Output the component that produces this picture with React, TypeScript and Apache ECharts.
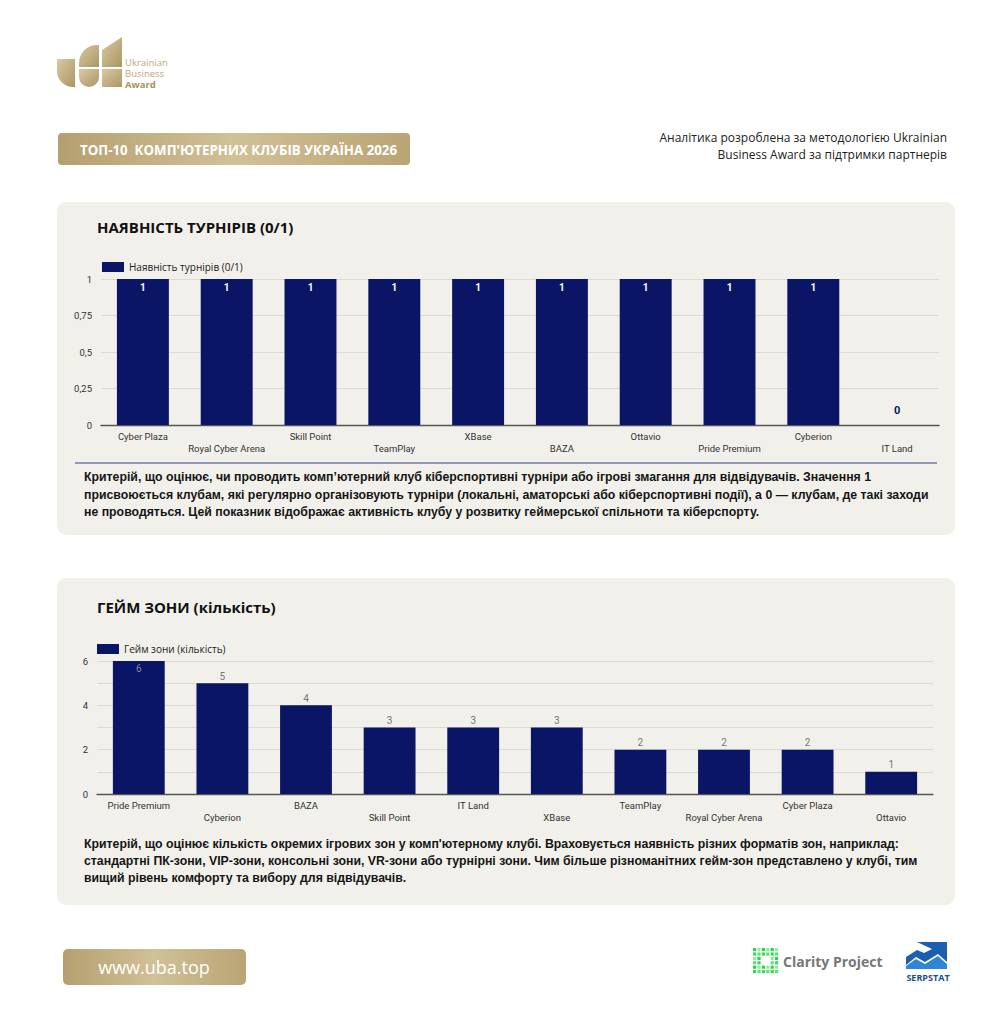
import React, { useEffect, useRef } from "react";
import * as echarts from "echarts";

const clubs1 = ["Cyber Plaza", "Royal Cyber Arena", "Skill Point", "TeamPlay", "XBase", "BAZA", "Ottavio", "Pride Premium", "Cyberion", "IT Land"];
const tournaments = [1, 1, 1, 1, 1, 1, 1, 1, 1, 0];
const clubs2 = ["Pride Premium", "Cyberion", "BAZA", "Skill Point", "IT Land", "XBase", "TeamPlay", "Royal Cyber Arena", "Cyber Plaza", "Ottavio"];
const gameZones = [6, 5, 4, 3, 3, 3, 2, 2, 2, 1];
const series1Name = "Наявність турнірів (0/1)";
const series2Name = "Гейм зони (кількість)";

const desc1 = [
  "Критерій, що оцінює, чи проводить комп’ютерний клуб кіберспортивні турніри або ігрові змагання для відвідувачів. Значення 1",
  "присвоюється клубам, які регулярно організовують турніри (локальні, аматорські або кіберспортивні події), а 0 — клубам, де такі заходи",
  "не проводяться. Цей показник відображає активність клубу у розвитку геймерської спільноти та кіберспорту.",
];
const desc2 = [
  "Критерій, що оцінює кількість окремих ігрових зон у комп'ютерному клубі. Враховується наявність різних форматів зон, наприклад:",
  "стандартні ПК-зони, VIP-зони, консольні зони, VR-зони або турнірні зони. Чим більше різноманітних гейм-зон представлено у клубі, тим",
  "вищий рівень комфорту та вибору для відвідувачів.",
];

const NAVY = "#0b1566";
const PANEL = "#f2f0ea";
const FONT = "'Open Sans', sans-serif";
const DESC_FONT = "'Liberation Sans', Arial, sans-serif";

const gold = () =>
  new echarts.graphic.LinearGradient(0, 0, 1, 0, [
    { offset: 0, color: "#b49f6f" },
    { offset: 0.5, color: "#d1c197" },
    { offset: 1, color: "#b9a473" },
  ]);
const goldV = () =>
  new echarts.graphic.LinearGradient(0, 0, 1, 1, [
    { offset: 0, color: "#d9caa4" },
    { offset: 1, color: "#ab9562" },
  ]);

function txt(x: number, y: number, text: string, font: string, fill: string, align = "left") {
  return { type: "text", x, y, style: { text, font, fill, align, verticalAlign: "middle" } };
}

function descTexts(lines: string[], y0: number, step: number) {
  return lines.map((t, i) => txt(84, y0 + i * step, t, `bold 12.3px ${DESC_FONT}`, "#151515"));
}

function clarityDots() {
  const out: any[] = [];
  const shades = ["#2fd14f", "#5be474", "#8df09c", "#39d85a"];
  for (let r = 0; r < 6; r++)
    for (let c = 0; c < 6; c++) {
      if ((r === 2 || r === 3) && c >= 2 && c <= 3) continue;
      out.push({
        type: "rect",
        shape: { x: 753 + c * 4.4, y: 948 + r * 4.4, width: 3.2, height: 3.2 },
        style: { fill: shades[(r * 3 + c * 2) % 4] },
      });
    }
  return out;
}

export default function App() {
  const ref = useRef<HTMLDivElement>(null);
  useEffect(() => {
    document.body.style.margin = "0";
    const chart = echarts.init(ref.current!, null, { renderer: "svg" });
    const yFmt = (v: number) => String(v).replace(".", ",");
    const xFmt = (v: string, i: number) => (i % 2 ? "\n" + v : v);
    const d1 = tournaments.map((v) => ({
      value: v,
      label:
        v > 0
          ? { show: true, position: "insideTop", color: "#ffffff", fontWeight: "bold", fontSize: 10, distance: 3 }
          : { show: true, position: "top", color: NAVY, fontWeight: "bold", fontSize: 11, distance: 9 },
    }));
    const d2 = gameZones.map((v, i) => ({
      value: v,
      label:
        i === 0
          ? { show: true, position: "insideTop", color: "#8a8a9a", fontSize: 10, distance: 2 }
          : { show: true, position: "top", color: "#777777", fontSize: 10, distance: 2 },
    }));
    const axisLabelX = { interval: 0, formatter: xFmt, color: "#333", fontSize: 9.5, lineHeight: 12, margin: 5, fontFamily: "Roboto" };
    chart.setOption({
      animation: false,
      backgroundColor: "#ffffff",
      textStyle: { fontFamily: "Roboto" },
      legend: [
        {
          data: [series1Name], left: 97, top: 257, itemWidth: 22, itemHeight: 10, itemGap: 4,
          textStyle: { fontSize: 10, color: "#222", fontFamily: FONT }, icon: "rect",
        },
        {
          data: [series2Name], left: 92, top: 639, itemWidth: 22, itemHeight: 10, itemGap: 4,
          textStyle: { fontSize: 10, color: "#222", fontFamily: FONT }, icon: "rect",
        },
      ],
      grid: [
        { left: 101, top: 279, width: 838, height: 146 },
        { left: 97, top: 661, width: 836, height: 133 },
      ],
      xAxis: [
        {
          type: "category", gridIndex: 0, data: clubs1,
          axisTick: { show: false }, axisLine: { lineStyle: { color: "#555", width: 1.3 } },
          axisLabel: axisLabelX,
        },
        {
          type: "category", gridIndex: 1, data: clubs2,
          axisTick: { show: false }, axisLine: { lineStyle: { color: "#555", width: 1.3 } },
          axisLabel: axisLabelX,
        },
      ],
      yAxis: [
        {
          type: "value", gridIndex: 0, min: 0, max: 1, interval: 0.25,
          axisLabel: { formatter: yFmt, color: "#333", fontSize: 9.5, margin: 9 },
          splitLine: { lineStyle: { color: "#dcdad3" } },
        },
        {
          type: "value", gridIndex: 1, min: 0, max: 6, interval: 1,
          axisLabel: { formatter: (v: number) => (v % 2 === 0 ? String(v) : ""), color: "#333", fontSize: 9.5, margin: 9 },
          splitLine: { lineStyle: { color: "#dcdad3" } },
        },
      ],
      series: [
        { type: "bar", name: series1Name, xAxisIndex: 0, yAxisIndex: 0, data: d1, barWidth: "62%", itemStyle: { color: NAVY } },
        { type: "bar", name: series2Name, xAxisIndex: 1, yAxisIndex: 1, data: d2, barWidth: "62%", itemStyle: { color: NAVY } },
      ],
      graphic: [
        // panels
        { type: "rect", z: -10, shape: { x: 57, y: 202, width: 898, height: 333, r: 9 }, style: { fill: PANEL } },
        { type: "rect", z: -10, shape: { x: 57, y: 578, width: 898, height: 327, r: 9 }, style: { fill: PANEL } },
        // UBA logo
        { type: "rect", shape: { x: 57, y: 59, width: 18, height: 28, r: [0, 0, 0, 16] }, style: { fill: goldV() } },
        { type: "rect", shape: { x: 79, y: 45, width: 20, height: 22, r: [18, 0, 0, 0] }, style: { fill: goldV() } },
        { type: "rect", shape: { x: 79, y: 69, width: 20, height: 18, r: [0, 0, 10, 10] }, style: { fill: goldV() } },
        { type: "polygon", shape: { points: [[102, 50], [122, 37], [122, 67], [102, 67]] }, style: { fill: goldV() } },
        { type: "rect", shape: { x: 102, y: 69, width: 20, height: 18 }, style: { fill: goldV() } },
        txt(125, 62, "Ukrainian", `9.5px ${FONT}`, "#bba97f"),
        txt(125, 73, "Business", `9.5px ${FONT}`, "#bba97f"),
        txt(125, 84, "Award", `bold 9.5px ${FONT}`, "#a8925f"),
        // title banner
        { type: "rect", shape: { x: 58, y: 133, width: 352, height: 32, r: 4 }, style: { fill: gold() } },
        txt(80, 150, "ТОП-10  КОМП'ЮТЕРНИХ КЛУБІВ УКРАЇНА 2026", `bold 13.3px ${FONT}`, "#ffffff"),
        // right caption
        txt(947, 137, "Аналітика розроблена за методологією Ukrainian", `12px ${FONT}`, "#222", "right"),
        txt(947, 154, "Business Award за підтримки партнерів", `12px ${FONT}`, "#222", "right"),
        // panel titles
        txt(97, 227, "НАЯВНІСТЬ ТУРНІРІВ (0/1)", `bold 15px ${FONT}`, "#111"),
        txt(97, 607, "ГЕЙМ ЗОНИ (кількість)", `bold 15px ${FONT}`, "#111"),
        // separator
        { type: "line", shape: { x1: 75, y1: 463, x2: 937, y2: 463 }, style: { stroke: "#3b3f82", lineWidth: 1 } },
        ...descTexts(desc1, 477, 17.5),
        ...descTexts(desc2, 844, 17),
        // footer
        { type: "rect", shape: { x: 63, y: 949, width: 183, height: 36, r: 5 }, style: { fill: gold() } },
        txt(154, 967, "www.uba.top", `18px ${FONT}`, "#ffffff", "center"),
        ...clarityDots(),
        txt(783, 961, "Clarity Project", `bold 14px ${FONT}`, "#777"),
        // serpstat logo
        { type: "polygon", shape: { points: [[917, 942], [947, 942], [947, 962], [938, 954], [925, 962], [916, 957], [906, 965], [906, 957], [917, 950], [924, 953], [932, 949]] }, style: { fill: "#1c5fae" } },
        { type: "polygon", shape: { points: [[906, 969], [906, 966], [916, 959], [925, 964], [938, 956], [947, 964], [947, 969]] }, style: { fill: "#2f86d6" } },
        txt(928, 977, "SERPSTAT", `bold 9px ${FONT}`, "#1a4d8c", "center"),
      ],
    });
    return () => chart.dispose();
  }, []);
  return <div ref={ref} style={{ width: 1004, height: 1024 }} />;
}
